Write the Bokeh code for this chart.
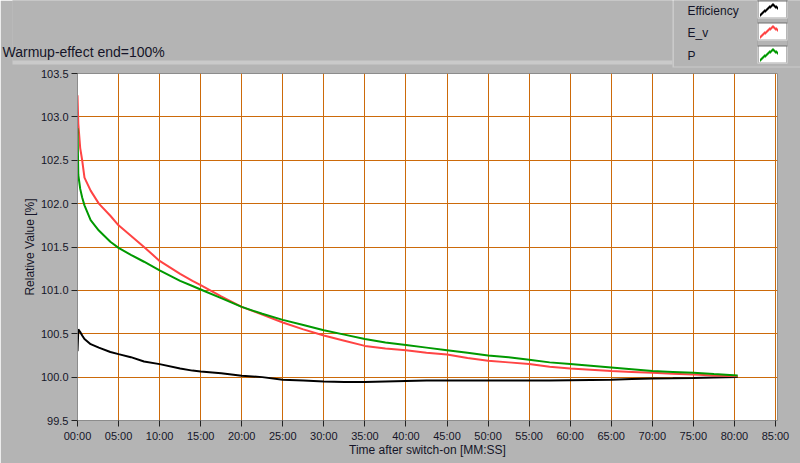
from bokeh.plotting import figure
from bokeh.models import (FixedTicker, Label, LinearAxis, Range1d, PrintfTickFormatter)
from bokeh.embed import file_html
from bokeh.resources import INLINE

# ---- data (minutes after switch-on, relative value in %) ----
t_min = [0.0, 0.1, 0.33, 0.57, 0.85, 1.6, 2.6, 4.0, 5.0, 6.5, 8.1, 10.0, 12.5, 14.0,
         15.0, 17.5, 20.0, 22.5, 25.0, 27.5, 30.0, 32.5, 35.0, 37.5, 40.0, 42.5,
         45.0, 47.5, 50.0, 52.5, 55.0, 57.5, 60.0, 62.5, 65.0, 67.5, 70.0, 72.5,
         75.0, 77.5, 80.4]

efficiency = [100.30, 100.55, 100.52, 100.48, 100.44, 100.38, 100.34, 100.29, 100.265,
              100.23, 100.18, 100.15, 100.10, 100.075, 100.065, 100.045, 100.015,
              100.00, 99.97, 99.96, 99.95, 99.945, 99.945, 99.95, 99.955, 99.96,
              99.96, 99.96, 99.96, 99.96, 99.96, 99.962, 99.965, 99.968, 99.97,
              99.978, 99.985, 99.987, 99.99, 99.995, 100.0]

e_v = [103.25, 102.92, 102.64, 102.50, 102.30, 102.15, 102.00, 101.86, 101.75,
       101.63, 101.50, 101.34, 101.19, 101.11, 101.06, 100.93, 100.81, 100.72,
       100.63, 100.55, 100.48, 100.42, 100.36, 100.33, 100.31, 100.28, 100.26,
       100.22, 100.19, 100.17, 100.15, 100.12, 100.10, 100.085, 100.07, 100.06,
       100.05, 100.04, 100.03, 100.02, 100.01]

p_vals = [102.87, 102.33, 102.17, 102.07, 101.98, 101.81, 101.69, 101.56, 101.49,
          101.41, 101.33, 101.23, 101.11, 101.05, 101.01, 100.91, 100.81, 100.73,
          100.66, 100.60, 100.54, 100.49, 100.44, 100.40, 100.37, 100.34, 100.31,
          100.28, 100.25, 100.23, 100.20, 100.17, 100.15, 100.13, 100.11, 100.09,
          100.07, 100.06, 100.05, 100.035, 100.02]

x_ticks = [0, 5, 10, 15, 20, 25, 30, 35, 40, 45, 50, 55, 60, 65, 70, 75, 80, 85]
x_tick_labels = ["00:00", "05:00", "10:00", "15:00", "20:00", "25:00", "30:00",
                 "35:00", "40:00", "45:00", "50:00", "55:00", "60:00", "65:00",
                 "70:00", "75:00", "80:00", "85:00"]
y_ticks = [99.5, 100.0, 100.5, 101.0, 101.5, 102.0, 102.5, 103.0, 103.5]

title_text = "Warmup-effect end=100%"
series_names = ["Efficiency", "E_v", "P"]
series_colors = ["#000000", "#FF4444", "#009900"]

# ---- figure ----
BG = "#B4B4B4"
LIGHT = "#CACACA"
DARK = "#6E6E6E"
GRID = "#CC6A0A"
TXT = "#141428"
FONT = "Liberation Sans"
W, H = 800, 463
FL, FR, FT, FB = 77, 777, 72, 420  # frame edges (canvas px)

p = figure(width=W, height=H, output_backend="svg", toolbar_location=None,
           x_range=(0, 85.25), y_range=(99.5, 103.5),
           min_border_left=FL, min_border_right=W - FR, min_border_top=FT,
           min_border_bottom=H - FB, background_fill_color="white",
           border_fill_color=BG, outline_line_color="#8C8C8C")
p.title.text = ""
p.title.standoff = 0
p.extra_x_ranges = {"px": Range1d(start=FL, end=FR)}

xt = FixedTicker(ticks=x_ticks)
yt = FixedTicker(ticks=y_ticks)
p.xaxis.ticker = xt
p.xgrid.ticker = xt
p.yaxis.ticker = yt
p.ygrid.ticker = yt
p.xaxis.major_label_overrides = dict(zip(x_ticks, x_tick_labels))
p.yaxis.formatter = PrintfTickFormatter(format="%.1f")

p.xaxis.axis_label = "Time after switch-on [MM:SS]"
p.yaxis.axis_label = "Relative Value [%]"
for ax in (p.xaxis, p.yaxis):
    ax.axis_label_text_font = FONT
    ax.axis_label_text_font_size = "12px"
    ax.axis_label_text_font_style = "normal"
    ax.axis_label_text_color = TXT
    ax.major_label_text_font = FONT
    ax.major_label_text_font_size = "11px"
    ax.major_label_text_color = TXT
    ax.major_label_standoff = 3
    ax.major_tick_in = 0
    ax.major_tick_out = 6
    ax.major_tick_line_color = "#222222"
    ax.minor_tick_line_color = None
    ax.axis_line_color = "#8C8C8C"
p.xaxis.axis_label_standoff = -2
p.yaxis.axis_label_standoff = 1

for g in (p.xgrid, p.ygrid):
    g.grid_line_color = GRID
    g.grid_line_alpha = 1.0
    g.grid_line_width = 1

# ---- series ----
for vals, col in zip([efficiency, e_v, p_vals], series_colors):
    p.line(t_min, vals, line_color=col, line_width=2)

# ---- texts above the plot (labels living in the top panel) ----
H14, H12 = 17, 13.25       # heights the labels take in the panel stack (measured)
bottoms = [FT, FT - H14, FT - H14 - H12, FT - H14 - 2 * H12]
texts = [(title_text, 2, 50.5, "14px"), (series_names[2], 687, 53.5, "12px"),
         (series_names[1], 687, 31.5, "12px"), (series_names[0], 687, 9.5, "12px")]
for (txt, cx, cy, fs), bot in zip(texts, bottoms):
    p.add_layout(Label(x=cx - FL, y=bot - cy, x_units="screen", y_units="screen",
                       text=txt, text_baseline="middle", text_font=FONT,
                       text_font_size=fs, text_color=TXT), "above")

# filler so that the top of the panel stack reaches the canvas top
p.add_layout(LinearAxis(x_range_name="px", ticker=FixedTicker(ticks=[400]),
                        major_tick_out=15, major_tick_in=0,
                        major_tick_line_color=None, axis_line_color=None,
                        minor_tick_line_color=None, major_label_text_font_size="0px",
                        major_label_overrides={400: ""},
                        major_label_standoff=0), "above")

T = 0.25  # y of the top rule (canvas px)


def paint(xs, width, y_end, color):
    """vertical strip(s) from the canvas top down to y_end, drawn as axis ticks"""
    length = int(round(y_end - T))
    if length <= 0:
        return
    p.add_layout(LinearAxis(x_range_name="px", ticker=FixedTicker(ticks=xs),
                            bounds=(0, W), axis_line_color=None,
                            major_tick_in=length, major_tick_out=0,
                            major_tick_line_color=color, major_tick_line_width=width,
                            minor_tick_line_color=None,
                            major_label_overrides={x: "" for x in xs},
                            major_label_text_font_size="0px",
                            major_label_standoff=0), "above")


# panel bevels
paint([6], 12, H, LIGHT)
paint([342], 660, 64, LIGHT)
paint([342], 660, 60, BG)
paint([736], 128, 67, LIGHT)
paint([736.5], 127, 66, BG)

# legend swatches: white boxes with a caret, painted bottom row first
rows = [(46, 62, series_colors[2]), (23, 39, series_colors[1]), (1, 17, series_colors[0])]
for top, bot, col in rows:
    paint([772], 30, bot + 1, "#E2E2E2")
    paint([771.5], 29, bot, DARK)
    paint([772], 28, bot, "white")
    for k in range(13):
        xs = [771.5 - k, 772.5 + k]
        y_top = top + 2 + round(0.8 * k)
        paint(xs, 1, y_top + 3, col)
        paint(xs, 1, y_top, "white")
    paint([772], 30, top, DARK)
    paint([772], 30, top - 1, BG)

open("out.html", "w").write(file_html(p, INLINE))
